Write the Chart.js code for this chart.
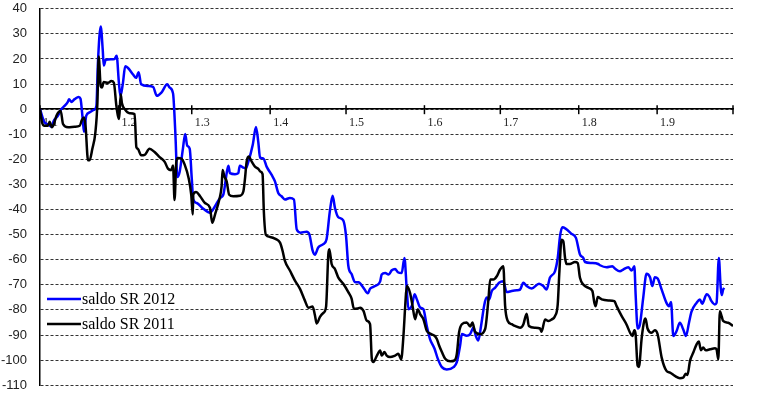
<!DOCTYPE html>
<html>
<head>
<meta charset="utf-8">
<script src="https://cdn.jsdelivr.net/npm/chart.js@4.4.1/dist/chart.umd.min.js"></script>
<style>
  html, body { margin: 0; padding: 0; background: #fff; }
  #wrap { width: 757px; height: 394px; }
</style>
</head>
<body>
<div id="wrap"><canvas id="myChart" width="757" height="394"></canvas></div>

<script>
// day of year (0 = 1 Jan) for each reading, and the saldo on that day
var days2012 = [0,1.8,3.2,4.5,5.5,7.1,8.4,9.7,11,11.5,12.4,13.7,15.3,16,17,17.4,18.3,19.6,21.3,22.3,22.9,24,24.8,25.2,26,29.5,30.3,31.2,31.8,32.8,33.7,34.8,36.8,38,39,40,42.7,44.7,46.2,48,50.3,51.3,52.6,53.5,54.3,55.2,56.5,57.4,58.2,59.2,60,60.6,62,64.6,67.2,69.2,71.2,72.5,73.8,74.5,75.1,77.1,78.4,79,80.4,81.4,82.4,84.1,85.4,86.3,87,88.3,89.6,91.6,92.9,94.2,95.5,96.8,98.8,100.4,101.5,103,105.4,106.5,107.8,108.7,110,112,113.3,114.6,115.7,116.6,117.9,119.9,121,121.9,123.2,124.5,125.9,127.9,129.6,130.5,132.5,134.5,135.1,136.5,137.8,139.1,140.4,141.5,143,144.1,145,145.7,147,148.1,149,150.3,151.6,152.9,154.2,156,157.3,158.9,160.8,163.5,164.8,166.1,166.8,168.7,170.1,171.4,172.3,173.3,174.4,175.7,176.6,177.6,178.6,179.9,181.5,183.2,184.5,186.5,188.5,189.8,191.1,192.4,194.4,197.3,199,200.3,201.6,203.6,204.7,205.6,206.5,207.8,210.2,211.9,213.5,214.8,215.5,218.1,220.7,221.4,224,226.3,227.3,229.3,230.6,232.6,233.9,235,235.5,236.3,237.2,238.5,239.8,241.2,242.1,243.1,244.2,245.8,247.7,248.7,249.5,250.4,251.7,253,254.3,255.4,256.6,257.6,259.6,260.9,261.8,263.6,264.5,265.5,266.8,267.5,268.4,269.1,269.5,270.1,270.5];
var saldo2012 = [0,-5.3,-6,-7,-4.6,-2.6,0,1.3,2.9,4,2.9,4,4.9,4.2,-5.3,-9,-2.6,-1.3,-0.3,1.3,18.4,32.9,23.7,17.4,19.7,20,21.3,10.5,5.3,10.5,17.1,16.4,13.8,12.5,14.7,9.9,9.2,8.9,5.3,6.6,9.9,8.6,6.3,-9.2,-27,-25,-15.8,-9.9,-14.5,-15.8,-27.6,-36,-37.4,-39.7,-41.3,-38.7,-35.4,-34,-25.5,-22.5,-25.5,-25.9,-25.5,-22.5,-23.3,-23.6,-20.9,-14.3,-7.1,-13,-19.3,-19.6,-22.9,-26.2,-28.8,-33.4,-34.7,-36,-35.4,-36,-47.9,-49.2,-48.8,-49.9,-56.4,-58,-55.1,-53.8,-51.8,-40.7,-34.5,-39.3,-43,-44.3,-50.5,-62.4,-65.7,-68.9,-69,-71.2,-73.4,-71.6,-70.5,-68.6,-65.9,-65.3,-65.9,-64.2,-63.7,-65,-65.3,-59.3,-71.8,-79.7,-78.4,-73.8,-75.8,-79,-79.7,-86.3,-91.6,-95.5,-99.5,-102.8,-103.7,-102.8,-100.8,-94.2,-89.6,-90.3,-89.6,-87,-90.3,-92.2,-86.3,-77.8,-75.1,-75.8,-72.5,-71.2,-69.2,-68.6,-72.9,-72.5,-72.2,-71.9,-69.2,-70.5,-71.5,-69.6,-70.5,-71.9,-67.2,-64.6,-59.3,-50.7,-47.1,-47.6,-49.7,-51.3,-57.9,-59.3,-60.9,-61.3,-61.7,-62.2,-63,-62.6,-63.5,-64.6,-63.9,-63,-64.3,-62.6,-73.8,-87.4,-85.8,-75.2,-65.6,-67,-70.5,-67,-67.5,-71.9,-77.2,-78.5,-76.8,-90.4,-88.4,-85.1,-87.7,-90.4,-85.1,-80.7,-77.2,-75.8,-77.5,-73.8,-74.5,-76.5,-77.8,-77.2,-59.3,-70.5,-74.1,-71.9,-71.2];

var days2011 = [0,0.8,1.8,3.2,3.8,4.7,5.5,6.5,8.2,9.1,11.1,13.7,15.7,16.6,17.4,18,19,19.6,20.7,21.9,22.7,23.2,24,24.5,25.2,26.9,28.2,29.2,30.2,30.8,31.3,31.9,32.4,33.5,35.4,37.4,38.1,38.7,40,41.4,43.3,45.3,47.3,49.3,50.6,51.9,52.6,53.2,53.9,54.5,55.9,57.2,58.8,59.8,60.4,60.6,61.7,63.3,65.2,67.2,68.1,69.2,70.9,71.8,72.2,72.9,73.8,74.8,76.4,79,80.4,81,81.7,82.5,83.7,85,86.3,87.2,88,88.5,89.3,90.9,93.3,94.9,95.9,96.8,98.8,100.8,102.8,104.7,106.1,107.8,108.7,109.4,110.7,112,113.1,114,114.4,115.3,116.6,117.9,119.9,121.9,123.2,124.1,125.5,126.6,127.9,129.2,130.5,131.2,131.8,133.2,134.5,135.1,136.2,137.1,138.4,140.4,141.7,142.8,143.7,144.4,145,146.3,147.3,148.3,149.4,150.3,151.6,152.9,154.6,156,156.9,157.8,158.9,160.2,162.2,163.9,164.8,165.7,166.8,168.7,170.1,171,172,174,176,177.3,178,179.3,180.6,181.9,183.2,183.9,184.9,186.5,187.8,189.8,191.1,192.4,193.3,195.7,197.7,198.3,199.7,201,202.3,203.6,204.7,205.3,206.2,206.9,207.6,208.2,209.5,211.5,212.6,213.5,214.8,216.8,218.4,219.2,219.7,220.5,222.1,224.7,227.1,228,230,231.9,233.3,234.2,235,235.5,236.3,236.8,237.9,238.9,239.4,240.2,241.8,243.1,244.2,245.8,247.7,249.1,251,253,254.3,255.3,256,257,258.3,259.6,260.5,261.3,262.2,263.2,264.9,266.9,267.5,268.2,268.8,269.5,270.1,272.1,274];
var saldo2011 = [0,-5.3,-6.6,-6.6,-5,-7.2,-5.9,-2.6,-0.7,-5.9,-7.2,-7,-6.6,-4.2,-3.3,-6.6,-20.4,-20.4,-15.8,-9.2,2.6,21,9.2,8.6,10.8,10.5,11.2,10.5,1.3,-2.6,-3.9,5.9,2.4,0,-1.6,-2,-15.1,-15.8,-18.4,-18.2,-15.8,-17.1,-19.1,-21,-23.7,-24.3,-22.4,-36.2,-21,-19.5,-19.7,-22.1,-27.6,-34.2,-42,-34,-33,-34.7,-37.4,-39.3,-45.3,-42,-36,-30.8,-24.2,-26.8,-28.8,-34.1,-34.7,-34.5,-32.8,-28.2,-20.9,-18.9,-20.9,-22.9,-23.8,-24.9,-25.9,-40.7,-50.1,-50.9,-51.8,-53.2,-56.4,-60.4,-64.3,-68.3,-71.6,-76.2,-79.1,-78.6,-82.1,-85.4,-82.8,-81.2,-78.8,-57.8,-55.8,-61.7,-63.7,-67,-69.6,-72.9,-75.5,-79.5,-79.4,-79.1,-80.4,-84.3,-85.7,-99.5,-100.8,-98.2,-96.2,-98.2,-96.8,-98.2,-98.8,-98.2,-97.5,-99.7,-90.3,-78.4,-70.5,-73.2,-78.4,-83.7,-79.7,-81.7,-83.7,-88.3,-89.6,-90.3,-91.6,-94.2,-96.8,-99.5,-100.5,-100.1,-97.5,-88.9,-85.7,-85,-86.6,-85,-88.7,-89.6,-87.6,-75.8,-67.9,-67.9,-66.6,-63.9,-62.6,-78.4,-84.3,-85.7,-86.4,-87.1,-85.8,-81.5,-86.4,-87.1,-87.4,-88.7,-83.8,-84.4,-83.8,-82.5,-77.8,-65.9,-52,-52.6,-59.3,-61.7,-61.7,-60.9,-61.3,-67.2,-69.9,-71.2,-72.5,-77.2,-78.5,-74.9,-75.8,-76.2,-76.5,-78.5,-82.5,-85.8,-89.1,-90.4,-88.1,-89.7,-102.3,-102.7,-91.1,-84.4,-83.4,-87.4,-89.1,-88.1,-89.7,-99,-104.3,-105,-106.3,-107.2,-107,-105.4,-105.9,-100.3,-97,-93.7,-92.6,-96.1,-95,-96.1,-95.7,-95.3,-95.7,-99.7,-80.5,-82.5,-84.4,-85.1,-86.4];

// month starts (day of year) and their labels
var monthDays = [0,31,60,91,121,152,182,213,244,274];
var monthLabels = ['1.1','1.2','1.3','1.4','1.5','1.6','1.7','1.8','1.9',''];

var seriesNames = ['saldo SR 2012', 'saldo SR 2011'];
var seriesColors = ['#0000ff', '#000000'];

function toPoints(xs, ys) {
  var pts = [];
  for (var i = 0; i < xs.length; i++) pts.push({x: xs[i], y: ys[i]});
  return pts;
}

// crossing tick marks on the x axis + the legend inside the plot
var extras = {
  id: 'extras',
  beforeDatasetsDraw: function(chart) {
    var ctx = chart.ctx, xs = chart.scales.x, ys = chart.scales.y;
    var y0 = ys.getPixelForValue(0);
    ctx.save();
    ctx.strokeStyle = '#000';
    ctx.lineWidth = 1.5;
    monthDays.forEach(function(d) {
      var px = xs.getPixelForValue(d);
      ctx.beginPath();
      ctx.moveTo(px, y0 - 4);
      ctx.lineTo(px, y0 + 5);
      ctx.stroke();
    });
    ctx.restore();
  },
  afterDatasetsDraw: function(chart) {
    var ctx = chart.ctx;
    ctx.save();
    ctx.font = '16px "Liberation Serif", "Times New Roman", serif';
    ctx.textBaseline = 'middle';
    ctx.fillStyle = '#000';
    for (var i = 0; i < seriesNames.length; i++) {
      var y = 299 + i * 25;
      ctx.strokeStyle = seriesColors[i];
      ctx.lineWidth = 2.5;
      ctx.beginPath();
      ctx.moveTo(47, y);
      ctx.lineTo(81, y);
      ctx.stroke();
      ctx.fillText(seriesNames[i], 82, y + 1);
    }
    ctx.restore();
  }
};

new Chart('myChart', {
  type: 'line',
  data: {
    datasets: [{
      label: seriesNames[0],
      data: toPoints(days2012, saldo2012),
      borderColor: seriesColors[0],
      borderWidth: 2.5,
      pointRadius: 0,
      cubicInterpolationMode: 'monotone',
      fill: false,
      order: 1
    }, {
      label: seriesNames[1],
      data: toPoints(days2011, saldo2011),
      borderColor: seriesColors[1],
      borderWidth: 2.5,
      pointRadius: 0,
      cubicInterpolationMode: 'monotone',
      fill: false,
      order: 0
    }]
  },
  options: {
    responsive: false,
    animation: false,
    layout: { padding: { left: 0, right: 24, top: 7, bottom: 5 } },
    plugins: { legend: { display: false }, tooltip: { enabled: false } },
    scales: {
      x: {
        type: 'linear',
        position: { y: 0 },
        min: 0,
        max: 274,
        afterBuildTicks: function(scale) {
          scale.ticks = monthDays.map(function(d) { return {value: d}; });
        },
        grid: { display: false, drawTicks: false },
        border: { display: true, color: '#000', width: 1.5 },
        ticks: {
          autoSkip: false,
          maxRotation: 0,
          align: 'start',
          labelOffset: 3,
          padding: 6,
          color: '#222',
          font: { family: '"Liberation Serif", "Times New Roman", serif', size: 12 },
          callback: function(v) {
            var i = monthDays.indexOf(v);
            return i < 0 ? '' : monthLabels[i];
          }
        }
      },
      y: {
        min: -110,
        max: 40,
        afterFit: function(scale) { scale.width = 40; },
        grid: { color: '#333', lineWidth: 1, drawTicks: true, tickLength: 12, tickColor: 'rgba(0,0,0,0)' },
        border: { display: true, color: '#000', width: 1.5, dash: [3, 2] },
        ticks: {
          stepSize: 10,
          padding: 1,
          color: '#222',
          font: { family: '"Liberation Sans", Arial, sans-serif', size: 13 }
        }
      }
    }
  },
  plugins: [extras]
});
</script>
</body>
</html>
